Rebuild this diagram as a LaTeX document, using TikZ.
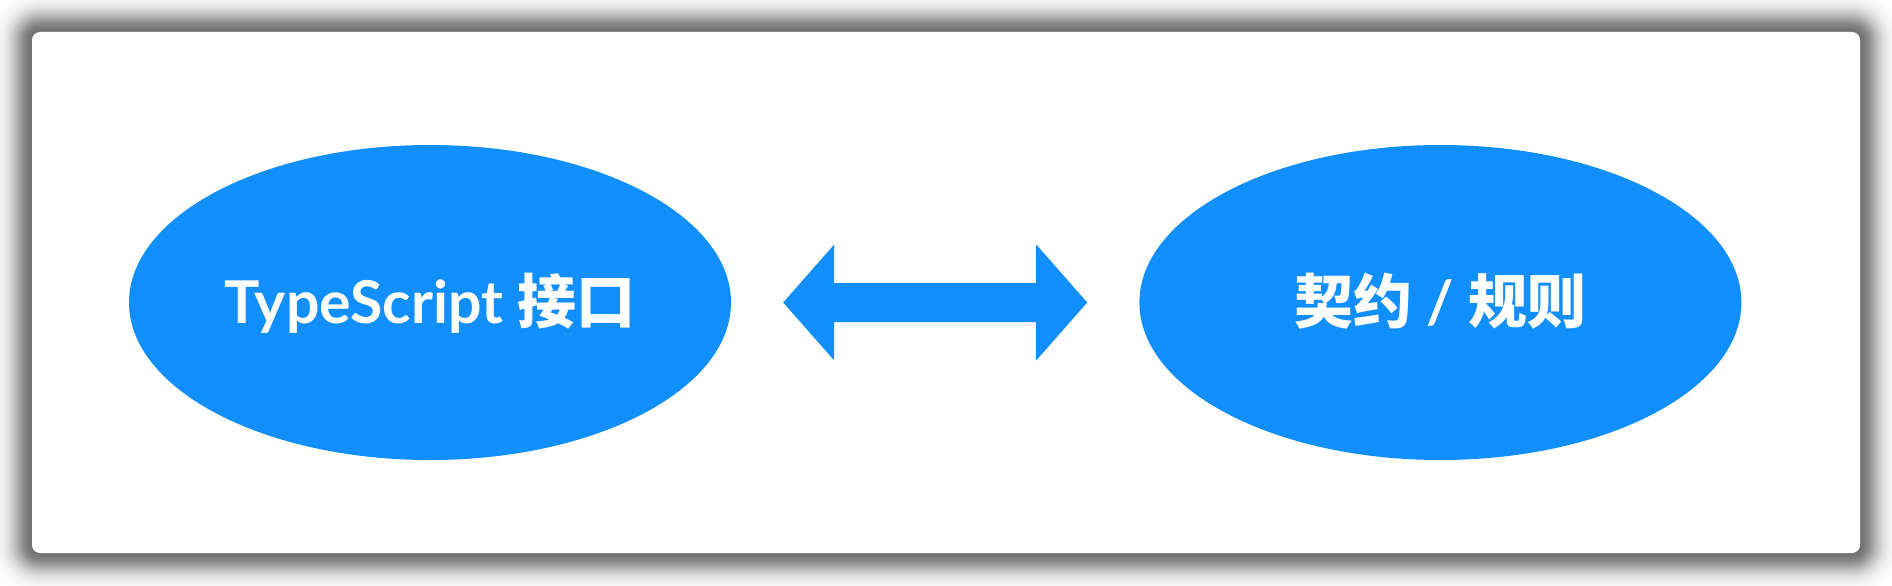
\documentclass[tikz,border=0pt]{standalone}
\usepackage{fontspec}
\setmainfont{Lato}
\newfontfamily\cjk{Noto Sans CJK SC}
\usetikzlibrary{shapes.geometric,calc,positioning}
\definecolor{skyblue}{RGB}{18,143,255}
\tikzset{
  card/.style={fill=white,rounded corners=8pt},
  blob/.style={ellipse,fill=skyblue,text=white,inner sep=0pt,minimum width=602pt,minimum height=315pt,text height=42pt,text depth=0pt,font=\fontsize{59}{60}\selectfont\bfseries},
  link/.style={fill=skyblue}
}
\begin{document}
\begin{tikzpicture}[x=1pt,y=-1pt]
\useasboundingbox (0,0) rectangle (1892,586);
\foreach \d [evaluate=\d as \r using 8+\d, evaluate=\d as \p using 55*exp(-\d*\d/400)] in {40,...,0} {
  \fill[black!\p!white,rounded corners=\r pt] (32-\d,32-\d) rectangle (1860+\d,553+\d);
}
\fill[card] (32,32) rectangle (1860,553);
\node[blob] (iface) at (430,302.5) {TypeScript {\cjk 接口}};
\node[blob,right=408pt of iface] (contract) {{\cjk 契约} / {\cjk 规则}};
\coordinate (tipL) at ($(iface.east)+(52,0)$);
\coordinate (tipR) at ($(contract.west)+(-52,0)$);
\fill[link] (tipL) -- ++(51,-58) -- ++(0,38.5) -- ($(tipR)+(-51,-19.5)$) -- ++(0,-38.5) -- (tipR)
  -- ++(-51,58) -- ++(0,-38.5) -- ($(tipL)+(51,19.5)$) -- ++(0,38.5) -- cycle;
\end{tikzpicture}
\end{document}
